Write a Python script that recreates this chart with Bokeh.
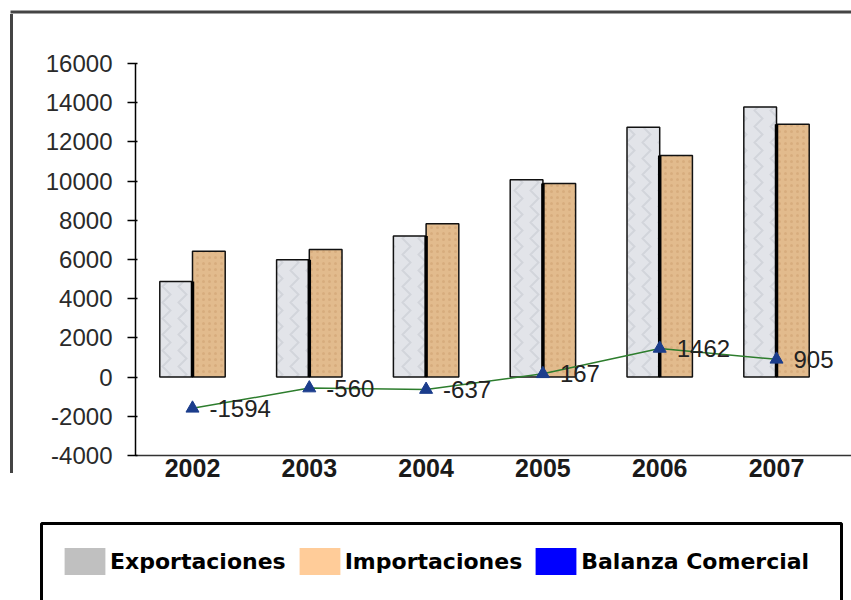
import numpy as np
from bokeh.plotting import figure
from bokeh.layouts import column, row
from bokeh.models import (ColumnDataSource, FixedTicker, Range1d, Legend, LegendItem,
                          PrintfTickFormatter, Div)
from bokeh.core.properties import value
from bokeh.embed import file_html
from bokeh.resources import INLINE

# ---- data ----
years = ["2002", "2003", "2004", "2005", "2006", "2007"]
exportaciones = [4880, 5990, 7200, 10070, 12750, 13780]
importaciones = [6420, 6510, 7830, 9880, 11300, 12900]
balanza = [-1594, -560, -637, 167, 1462, 905]
y_ticks = [-4000, -2000, 0, 2000, 4000, 6000, 8000, 10000, 12000, 14000, 16000]
legend_labels = ["Exportaciones", "Importaciones", "Balanza Comercial"]
legend_colors = ["#c0c0c0", "#ffcc99", "#0000ff"]

FRAME_COLOR = "#444444"


def blank_fig(w, h):
    f = figure(width=w, height=h, x_range=Range1d(0, w), y_range=Range1d(h, 0),
               min_border=0, toolbar_location=None, output_backend="svg",
               x_axis_location=None, y_axis_location=None)
    f.xgrid.visible = False
    f.ygrid.visible = False
    f.outline_line_color = None
    f.title.visible = False
    return f


# ---- outer chart border: top line (figure) and left line (div) ----
top_strip = blank_fig(851, 14)
top_strip.quad(left=[10], right=[851], top=[10], bottom=[13],
               fill_color=FRAME_COLOR, line_color=None)
left_strip = Div(text="", width=14, height=476, margin=0,
                 styles={"background-image": f"linear-gradient({FRAME_COLOR}, {FRAME_COLOR})",
                         "background-size": "3px 459px",
                         "background-position": "10px 0px",
                         "background-repeat": "no-repeat"})

# ---- chart ----
pos = np.arange(len(years))
bw = 0.28
src = ColumnDataSource(dict(
    pos=pos,
    xe=pos - bw / 2,
    xi=pos + bw / 2,
    exp=exportaciones,
    imp=importaciones,
    low=np.minimum(exportaciones, importaciones),
    bal=balanza,
    lab=[str(v) for v in balanza],
))

p = figure(width=837, height=476,
           x_range=Range1d(-0.488, 5.642), y_range=Range1d(-4000, 16000),
           output_backend="svg", toolbar_location=None,
           min_border_left=121, min_border_right=0,
           min_border_top=49, min_border_bottom=35)
p.title.visible = False
p.xgrid.visible = False
p.ygrid.visible = False
p.outline_line_color = None

p.vbar(x="xe", top="exp", bottom=0, width=bw, source=src,
       fill_color="#e2e4e9", line_color="#111111", line_width=1.5,
       hatch_pattern="vertical_wave", hatch_color="#b9bdc6", hatch_alpha=0.4,
       hatch_scale=16, hatch_weight=2)
p.vbar(x="xi", top="imp", bottom=0, width=bw, source=src,
       fill_color="#e2bb8d", line_color="#111111", line_width=1.5,
       hatch_pattern="dot", hatch_color="#c99c6a", hatch_alpha=0.45,
       hatch_scale=6, hatch_weight=1)
p.segment(x0="pos", y0=0, x1="pos", y1="low", source=src,
          line_color="black", line_width=3.5)

p.line(x="pos", y="bal", source=src, line_color="#2d7d2d", line_width=1.5)
p.scatter(x="pos", y="bal", source=src, marker="triangle", size=13,
          fill_color="#1b3d8c", line_color="#1b3d8c")
p.text(x="pos", y="bal", text="lab", source=src, x_offset=17,
       text_baseline="middle", text_align="left",
       text_font=value("Liberation Sans"), text_font_size="24px",
       text_color="#222222")

p.yaxis.ticker = FixedTicker(ticks=y_ticks)
p.yaxis.formatter = PrintfTickFormatter(format="%d")
p.yaxis.major_label_text_font = "Liberation Sans"
p.yaxis.major_label_text_font_size = "24px"
p.yaxis.major_label_text_color = "#2a2a2a"
p.yaxis.major_label_standoff = 15
p.yaxis.major_tick_out = 8
p.yaxis.major_tick_in = 2
p.yaxis.minor_tick_line_color = None
p.yaxis.axis_line_color = "black"
p.yaxis.axis_line_width = 1.5
p.yaxis.major_tick_line_color = "black"
p.yaxis.major_tick_line_width = 1.5

p.xaxis.ticker = FixedTicker(ticks=list(pos))
p.xaxis.major_label_overrides = {int(i): y for i, y in zip(pos, years)}
p.xaxis.major_label_text_font = "Liberation Sans"
p.xaxis.major_label_text_font_style = "bold"
p.xaxis.major_label_text_font_size = "25px"
p.xaxis.major_label_text_color = "#1a1a1a"
p.xaxis.major_label_standoff = 3
p.xaxis.major_tick_out = 0
p.xaxis.major_tick_in = 0
p.xaxis.minor_tick_line_color = None
p.xaxis.axis_line_color = "#333333"
p.xaxis.axis_line_width = 1.5

# ---- legend (separate panel below the chart) ----
lf = blank_fig(851, 110)
# open-bottom legend frame
lf.line(x=[41, 41, 841, 841], y=[130, 33, 33, 130], line_color="black", line_width=3)
items = []
for lab, col in zip(legend_labels, legend_colors):
    # swatch renderer kept outside the visible range; it only feeds the legend glyph
    r = lf.quad(left=[-60], right=[-40], top=[0], bottom=[10], fill_color=col, line_color=None)
    items.append(LegendItem(label=lab, renderers=[r]))
legend = Legend(items=items, orientation="horizontal", location=(59, 22),
                padding=10, spacing=8, label_standoff=0, margin=0,
                glyph_width=51, glyph_height=34,
                label_text_font="DejaVu Sans", label_text_font_style="bold",
                label_text_font_size="22px", label_text_color="black",
                border_line_color=None, background_fill_alpha=0)
lf.add_layout(legend)

layout = column(top_strip, row(left_strip, p, spacing=0), lf, spacing=0)
open("out.html", "w").write(file_html(layout, INLINE))
